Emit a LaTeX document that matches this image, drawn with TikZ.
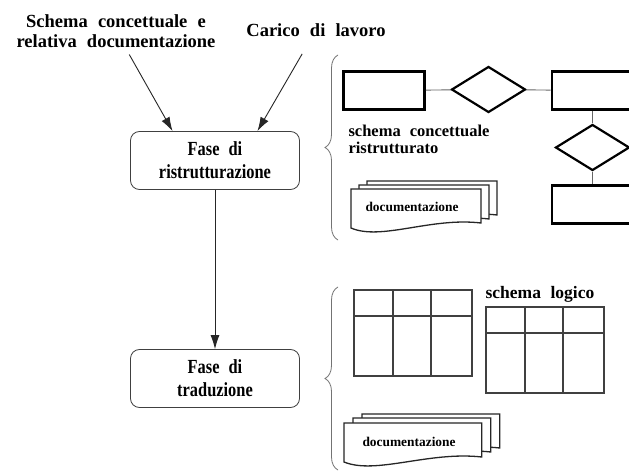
\documentclass[tikz,border=0pt]{standalone}
\usepackage{fontspec}
\setmainfont{Liberation Serif}[WordSpace=2.2]
\newfontfamily\condensato{Liberation Serif}[FakeStretch=0.82, WordSpace=2.2]
\usetikzlibrary{positioning, arrows.meta, shapes.geometric, decorations.pathreplacing, calc}

\tikzset{
  pagina/.pic={\draw[foglio] (0,0) -- (130,0) -- (130,34) .. controls (80,28) and (30,52) .. (0,39) -- cycle;},
  griglia/.pic={\draw[tabella] (0,0) rectangle (118,86) (39,0) -- (39,86) (77,0) -- (77,86) (0,26) -- (118,26);}
}

\begin{document}
\begin{tikzpicture}[x=1pt, y=-1pt, node distance=218pt]
\tikzstyle{fase} = [draw=black!75, line width=0.8pt, rounded corners=9pt, minimum width=169pt, minimum height=58pt, align=center, font=\condensato\bfseries\fontsize{20}{23}\selectfont]
\tikzstyle{etichetta} = [align=center, font=\bfseries\fontsize{18.5}{20}\selectfont]
\tikzstyle{freccia} = [draw=black!85, line width=0.9pt, -{Latex[length=14pt,width=9pt]}]
\tikzstyle{entita} = [draw, line width=2.6pt, minimum width=81pt, minimum height=38pt, inner sep=0pt]
\tikzstyle{relazione} = [draw, diamond, line width=2.2pt, minimum width=74pt, minimum height=46pt, inner sep=0pt]
\tikzstyle{legame} = [draw=black!60, line width=0.9pt]
\tikzstyle{graffa} = [draw=black!55, line width=0.8pt, decorate, decoration={brace, amplitude=13pt}]
\tikzstyle{foglio} = [draw=black!85, line width=1.3pt, fill=white]
\tikzstyle{tabella} = [draw=black!75, line width=1.3pt]
\tikzstyle{piccolo} = [font=\bfseries\fontsize{13.4}{15}\selectfont]
\fill[white] (0,0) rectangle (629,473);
\useasboundingbox (0,0) rectangle (629,473);

\node[etichetta] (schema) at (116,31) {Schema concettuale e\\relativa documentazione};
\node[etichetta] (carico) at (316,30) {Carico di lavoro};
\node[fase] (ristr) at (215,160.5) {Fase di\\ristrutturazione};
\node[fase] (trad) [below of=ristr] {Fase di\\traduzione};
\draw[freccia, shorten <=4pt] (schema) -- ($(ristr.north west)!0.25!(ristr.north east)$);
\draw[freccia, shorten <=16pt] (carico) -- ($(ristr.north west)!0.75!(ristr.north east)$);
\draw[freccia] (ristr) -- (trad);

\draw[graffa] (338,240) -- (338,55);
\draw[graffa] (338,470) -- (338,287);

\node[entita] (e1) at (384,90.5) {};
\node[relazione] (r1) at (488.5,89.5) {};
\node[entita] (e2) at (592.5,90.5) {};
\node[relazione] (r2) at (592.5,147.5) {};
\node[entita] (e3) at (592.5,204.5) {};
\draw[legame] (e1) -- (r1);
\draw[legame] (r1) -- (e2);
\draw[legame] (e2) -- (r2);
\draw[legame] (r2) -- (e3);
\node[anchor=west, align=left, font=\bfseries\fontsize{16.5}{17}\selectfont] (concett) at (345,139) {schema concettuale\\ristrutturato};

\foreach \dx/\dy in {16/8, 8/4, 0/0}
  \pic at (351+\dx,189-\dy) {pagina};
\node[piccolo, anchor=west] (doc1) at (362,207) {documentazione};

\pic at (354,290) {griglia};
\pic at (486,307) {griglia};
\node[font=\bfseries\fontsize{17.5}{20}\selectfont] (logico) at (540,294) {schema logico};

\foreach \dx/\dy in {18/9, 9/5, 0/0}
  \pic[xscale=1.06] at (344+\dx,423-\dy) {pagina};
\node[piccolo, anchor=west] (doc2) at (359,442) {documentazione};
\end{tikzpicture}
\end{document}
